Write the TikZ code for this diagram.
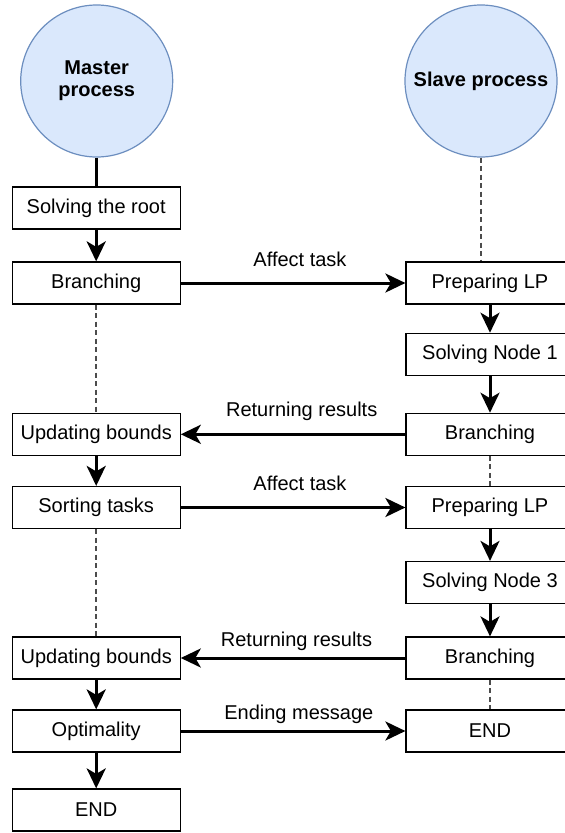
\documentclass[tikz,border=0pt]{standalone}
\usepackage{fontspec}
\setmainfont{Liberation Sans}
\usetikzlibrary{arrows.meta}
\definecolor{circfill}{HTML}{DAE8FC}
\definecolor{circdraw}{HTML}{6C8EBF}
\begin{document}
\begin{tikzpicture}[x=1pt,y=-1pt,
  box/.style={draw, line width=1.2pt, minimum width=168pt, minimum height=42pt, inner sep=0pt, fill=white, font=\fontsize{20}{24}\selectfont},
  proc/.style={circle, draw=circdraw, fill=circfill, line width=1.2pt, minimum size=152pt, inner sep=0pt, align=center, font=\bfseries\fontsize{20}{22}\selectfont},
  flow/.style={line width=3pt, -{Stealth[length=20pt,width=19pt,inset=5.5pt]}},
  plain/.style={line width=3pt},
  life/.style={line width=1.6pt, black!70, dash pattern=on 5pt off 3.5pt},
  lbl/.style={font=\fontsize{20}{24}\selectfont, anchor=base, inner sep=0pt}]
\useasboundingbox (0,0) rectangle (565,833);
\clip (0,0) rectangle (565,833);
% circles
\node[proc] (master) at (96.7,81) {Master\\process};
\node[proc] (slave) at (481,81) {Slave process};
% left column
\node[box] (root) at (96.2,208) {Solving the root};
\node[box] (b1) at (96.2,283) {Branching};
\node[box] (u1) at (96.2,434.3) {Updating bounds};
\node[box] (sort) at (96.2,507.5) {Sorting tasks};
\node[box] (u2) at (96.2,658) {Updating bounds};
\node[box] (opt) at (96.2,731) {Optimality};
\node[box] (mend) at (96.2,810) {END};
% right column
\node[box] (p1) at (490,283) {Preparing LP};
\node[box] (s1) at (490,354.3) {Solving Node 1};
\node[box] (rb1) at (490,434.3) {Branching};
\node[box] (p2) at (490,507.5) {Preparing LP};
\node[box] (s3) at (490,582.5) {Solving Node 3};
\node[box] (rb2) at (490,658) {Branching};
\node[box] (send) at (490,731) {END};
% master lifeline
\draw[plain] (master.south) -- (master.south |- root.north);
\draw[flow] (root) -- (b1);
\draw[life] (b1) -- (u1);
\draw[flow] (u1) -- (sort);
\draw[life] (sort) -- (u2);
\draw[flow] (u2) -- (opt);
\draw[flow] (opt) -- (mend);
% slave lifeline
\draw[life] (slave.south) -- (slave.south |- p1.north);
\draw[flow] (p1) -- (s1);
\draw[flow] (s1) -- (rb1);
\draw[life] (rb1) -- (p2);
\draw[flow] (p2) -- (s3);
\draw[flow] (s3) -- (rb2);
\draw[life] (rb2) -- (send);
% messages
\draw[flow] (b1.east) -- (p1.west);
\node[lbl] (l1) at (300,266) {Affect task};
\draw[flow] (rb1.west) -- (u1.east);
\node[lbl] (l2) at (301.7,416.7) {Returning results};
\draw[flow] (sort.east) -- (p2.west);
\node[lbl] (l3) at (300,490.7) {Affect task};
\draw[flow] (rb2.west) -- (u2.east);
\node[lbl] (l4) at (296.5,646.7) {Returning results};
\draw[flow] (opt.east) -- (send.west);
\node[lbl] (l5) at (298.8,719.3) {Ending message};
\end{tikzpicture}
\end{document}
